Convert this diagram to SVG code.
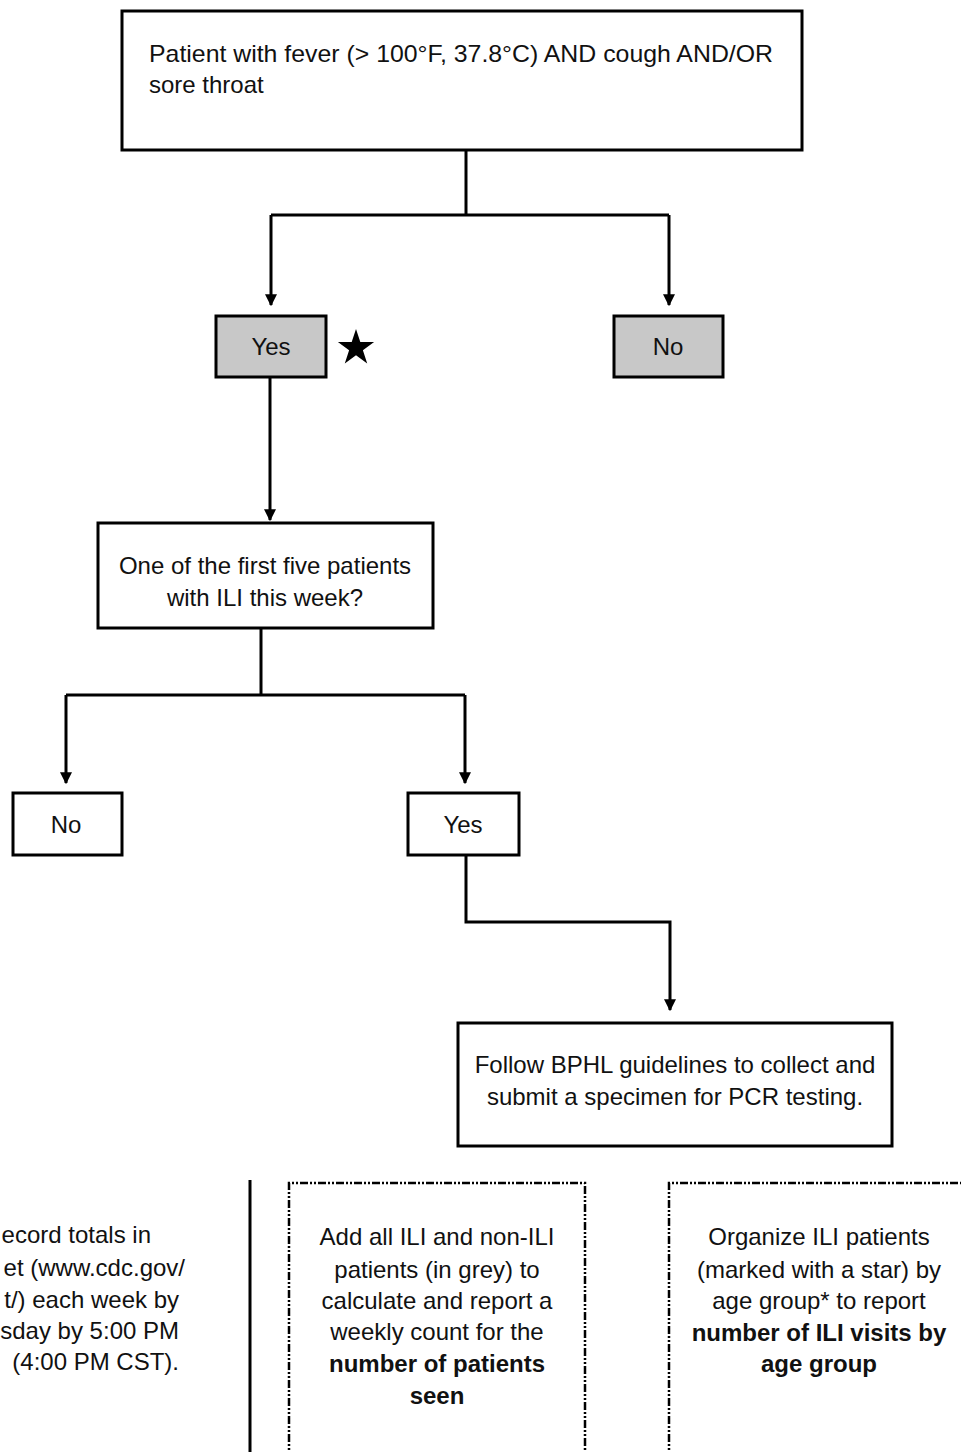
<svg xmlns="http://www.w3.org/2000/svg" width="961" height="1452" viewBox="0 0 961 1452">
<defs>
<style>
.box{fill:#fff;stroke:#000;stroke-width:3}
.grey{fill:#c8c8c8;stroke:#000;stroke-width:3}
.dot{fill:none;stroke:#000;stroke-width:2.5;stroke-dasharray:8 2 2 2 2 2}
.t{font-family:"Liberation Sans",Arial,sans-serif;font-size:24px;fill:#111}
.c{text-anchor:middle}
.b{font-weight:bold}
.ln{fill:none;stroke:#000;stroke-width:3}
</style>
<marker id="ah" viewBox="0 0 10 10" refX="9" refY="5" markerWidth="4" markerHeight="4" markerUnits="strokeWidth" orient="auto">
<path d="M0,0 L10,5 L0,10 Z" fill="#000"/>
</marker>
</defs>
<rect width="961" height="1452" fill="#fff"/>
<g id="connectors">
<path class="ln" d="M466,150 V215"/>
<path class="ln" d="M271,215 H669"/>
<path class="ln" d="M271,215 V305" marker-end="url(#ah)"/>
<path class="ln" d="M669,215 V305" marker-end="url(#ah)"/>
<path class="ln" d="M270,377 V520" marker-end="url(#ah)"/>
<path class="ln" d="M261,628 V695"/>
<path class="ln" d="M66,695 H465"/>
<path class="ln" d="M66,695 V783" marker-end="url(#ah)"/>
<path class="ln" d="M465,695 V783" marker-end="url(#ah)"/>
<path class="ln" d="M466,855 V922 H670 V1010" marker-end="url(#ah)"/>
</g>
<g id="n-start">
<rect class="box" x="122" y="11" width="680" height="139"/>
<text class="t" x="149" y="62" textLength="624" lengthAdjust="spacingAndGlyphs">Patient with fever (&gt; 100°F, 37.8°C) AND cough AND/OR</text>
<text class="t" x="149" y="93">sore throat</text>
</g>
<g id="n-yes1">
<rect class="grey" x="216" y="316" width="110" height="61"/>
<text class="t c" x="271" y="355">Yes</text>
</g>
<g id="star">
<polygon points="356,329 360.3,342.1 374.1,342.1 362.9,350.3 367.2,363.4 356,355.3 344.8,363.4 349.1,350.3 337.9,342.1 351.7,342.1" fill="#000"/>
</g>
<g id="n-no1">
<rect class="grey" x="614" y="316" width="109" height="61"/>
<text class="t c" x="668" y="355">No</text>
</g>
<g id="n-first5">
<rect class="box" x="98" y="523" width="335" height="105"/>
<text class="t c" x="265" y="574">One of the first five patients</text>
<text class="t c" x="265" y="606">with ILI this week?</text>
</g>
<g id="n-no2">
<rect class="box" x="13" y="793" width="109" height="62"/>
<text class="t c" x="66" y="833">No</text>
</g>
<g id="n-yes2">
<rect class="box" x="408" y="793" width="111" height="62"/>
<text class="t c" x="463" y="833">Yes</text>
</g>
<g id="n-bphl">
<rect class="box" x="458" y="1023" width="434" height="123"/>
<text class="t c" x="675" y="1073">Follow BPHL guidelines to collect and</text>
<text class="t c" x="675" y="1105">submit a specimen for PCR testing.</text>
</g>
<g id="n-record">
<text class="t" x="151" y="1243" text-anchor="end">ecord totals in</text>
<text class="t" x="185" y="1276" text-anchor="end">et (www.cdc.gov/</text>
<text class="t" x="179" y="1308" text-anchor="end">t/) each week by</text>
<text class="t" x="179" y="1339" text-anchor="end">sday by 5:00 PM</text>
<text class="t" x="179" y="1370" text-anchor="end">(4:00 PM CST).</text>
<path class="ln" d="M250,1180 V1452"/>
</g>
<g id="n-add">
<path class="dot" d="M289,1460 V1183 H585 V1460"/>
<text class="t c" x="437" y="1245">Add all ILI and non-ILI</text>
<text class="t c" x="437" y="1278">patients (in grey) to</text>
<text class="t c" x="437" y="1309">calculate and report a</text>
<text class="t c" x="437" y="1340">weekly count for the</text>
<text class="t c b" x="437" y="1372">number of patients</text>
<text class="t c b" x="437" y="1404">seen</text>
</g>
<g id="n-organize">
<path class="dot" d="M669,1460 V1183 H970"/>
<text class="t c" x="819" y="1245">Organize ILI patients</text>
<text class="t c" x="819" y="1278">(marked with a star) by</text>
<text class="t c" x="819" y="1309">age group* to report</text>
<text class="t c b" x="819" y="1341">number of ILI visits by</text>
<text class="t c b" x="819" y="1372">age group</text>
</g>
</svg>
